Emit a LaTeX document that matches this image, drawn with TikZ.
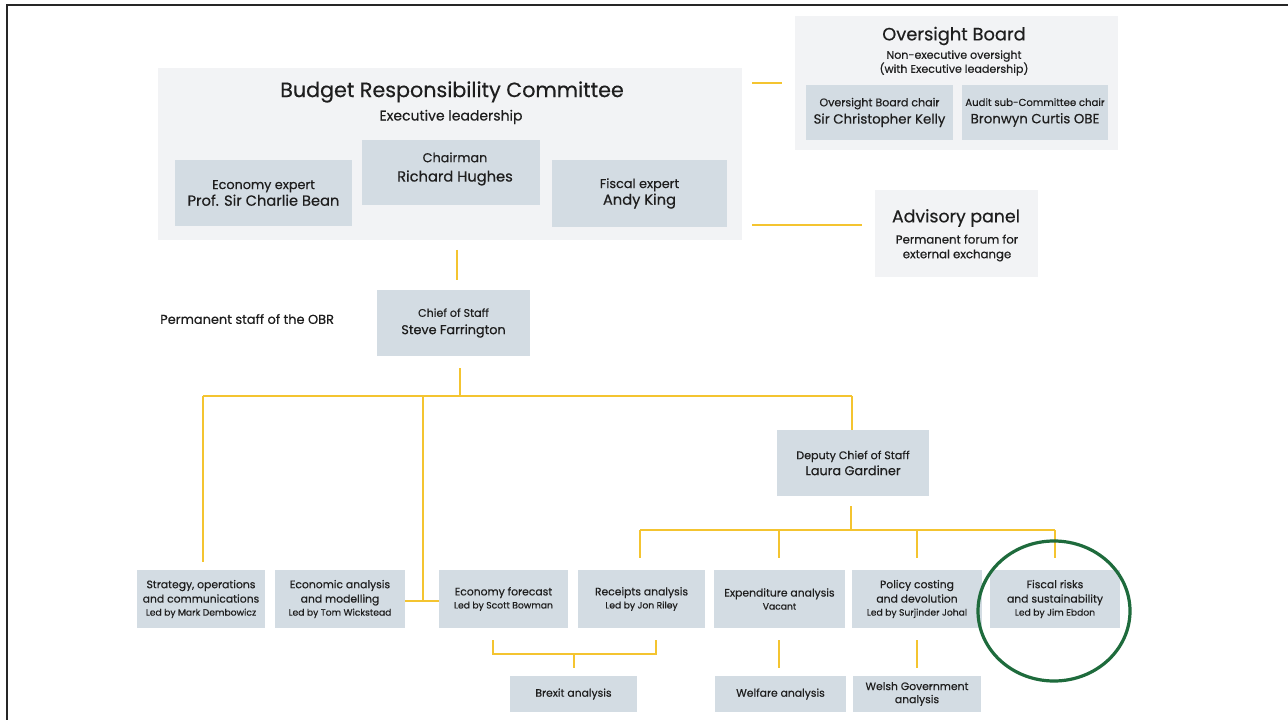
\documentclass[tikz,border=0pt]{standalone}
\usepackage{fontspec}
\setmainfont{Poppins}[RawFeature={embolden=0.4}]
\definecolor{boxc}{HTML}{D3DCE3}
\definecolor{panelc}{HTML}{F2F3F5}
\definecolor{gold}{HTML}{F4C430}
\definecolor{txt}{HTML}{1E1E1E}
\definecolor{ring}{HTML}{1E6B3C}
\newcommand\sbt{\fontsize{10.5}{12}\selectfont}
\newcommand\nm{\fontsize{11}{13}\selectfont}
\newcommand\rl{\fontsize{9.6}{11.5}\selectfont}
\newcommand\bt{\fontsize{8.1}{10.8}\selectfont}
\newcommand\ld{\fontsize{6.9}{8}\selectfont}
\newcommand\obox[7][]{\node[box, minimum width={(#5-#3)*0.75pt}, minimum height={(#6-#4)*0.75pt}, #1] (#2) at ({(#3+#5)/2},{(#4+#6)/2}) {#7};}
\newcommand\opanel[5]{\node[panel, minimum width={(#4-#2)*0.75pt}, minimum height={(#5-#3)*0.75pt}] (#1) at ({(#2+#4)/2},{(#3+#5)/2}) {};}
\begin{document}
\begin{tikzpicture}[x=0.75pt,y=-0.75pt,
  panel/.style={fill=panelc, draw=none, inner sep=0pt},
  box/.style={fill=boxc, draw=none, inner sep=0pt, align=center, text=txt, font=\bt},
  lbl/.style={inner sep=0pt, align=center, text=txt},
  conn/.style={draw=gold, line width=1.5pt},
]
\useasboundingbox (0,0) rectangle (1288,720);
\fill[white] (0,0) rectangle (1288,720);
\draw[black!85, line width=1.5pt] (7,720) -- (7,5) -- (1288,5);

% Budget Responsibility Committee
\opanel{brc}{158}{68}{742}{240}
\node[lbl, font=\fontsize{15.5}{18}\selectfont] (brct) at (452,92) {Budget Responsibility Committee};
\node[lbl, font=\sbt] (brcs) at (451,117) {Executive leadership};
\obox[font=\rl]{eco}{175}{160}{352}{226}{Economy expert\\[1pt]{\nm Prof. Sir Charlie Bean}}
\obox{chr}{362}{140}{540}{205}{}
\node[lbl, font=\rl] (chrt) at (455,169) {Chairman\\[3pt]{\nm Richard Hughes}};
\obox[font=\rl]{fsc}{552}{160}{727}{227}{Fiscal expert\\[1pt]{\nm Andy King}}

% Oversight Board
\opanel{ob}{795}{16}{1118}{150}
\node[lbl, font=\fontsize{13.4}{16}\selectfont] (obt) at (954,36) {Oversight Board};
\node[lbl, font=\fontsize{8.3}{10.5}\selectfont] (obs) at (954,63) {Non-executive oversight\\(with Executive leadership)};
\obox[font=\fontsize{8.3}{10}\selectfont]{obc}{806}{85}{953}{140}{Oversight Board chair\\[3pt]{\fontsize{10}{12}\selectfont Sir Christopher Kelly}}
\obox[font=\fontsize{7.6}{10}\selectfont]{aud}{962}{85}{1108}{140}{Audit sub-Committee chair\\[3pt]{\fontsize{10}{12}\selectfont Bronwyn Curtis OBE}}

% Advisory panel
\opanel{adv}{875}{190}{1038}{277}
\node[lbl, font=\fontsize{13}{15}\selectfont] (advt) at (956,218) {Advisory panel};
\node[lbl, font=\fontsize{8.8}{11}\selectfont] (advs) at (957,248) {Permanent forum for\\external exchange};

% Permanent staff
\node[lbl, anchor=west, font=\fontsize{9.7}{11}\selectfont] (perm) at (160,319) {Permanent staff of the OBR};
\obox[font=\fontsize{8.3}{10}\selectfont]{cos}{377}{290}{530}{356}{Chief of Staff\\[3pt]{\fontsize{9.6}{11}\selectfont Steve Farrington}}
\obox[font=\fontsize{8.3}{10}\selectfont]{dep}{777}{430}{929}{496}{Deputy Chief of Staff\\[2pt]{\fontsize{9.6}{11}\selectfont Laura Gardiner}}

% bottom row
\obox{str}{137}{570}{265}{628}{Strategy, operations\\and communications\\[-1pt]{\ld Led by Mark Dembowicz}}
\obox{ean}{275}{570}{405}{628}{Economic analysis\\and modelling\\[-1pt]{\ld Led by Tom Wickstead}}
\obox{for}{439}{570}{568}{628}{Economy forecast\\[-1pt]{\ld Led by Scott Bowman}}
\obox{rec}{578}{570}{705}{628}{Receipts analysis\\[-1pt]{\ld Led by Jon Riley}}
\obox{exp}{714}{570}{845}{628}{Expenditure analysis\\[-1pt]{\ld Vacant}}
\obox{pol}{852}{570}{982}{628}{Policy costing\\and devolution\\[-1pt]{\ld Led by Surjinder Johal}}
\obox{fis}{990}{570}{1120}{628}{Fiscal risks\\and sustainability\\[-1pt]{\ld Led by Jim Ebdon}}
\obox{brx}{510}{676}{637}{712}{Brexit analysis}
\obox{wel}{715}{676}{846}{712}{Welfare analysis}
\obox{wsh}{853}{676}{981}{712}{Welsh Government\\[-1pt]analysis}

% connectors
\draw[conn, shorten <=7.5pt, shorten >=9.75pt] (brc.east |- ob.west) -- (ob.west);
\coordinate (advin) at (862,225);
\draw[conn, shorten <=7.5pt] (brc.east |- advin) -- (advin);
\coordinate (c1) at (457,250);
\draw[conn, shorten >=7.5pt] (c1) -- (cos.north -| c1);
\coordinate (j1) at (460,396);
\draw[conn, shorten <=9pt] (cos.south -| j1) -- (j1);
\coordinate (sx) at (203,396);
\coordinate (dx) at (852,396);
\draw[conn] (sx) -- (dx);
\draw[conn, shorten >=6pt] (sx) -- (str.north -| sx);
\draw[conn] (dx) -- (dep.north -| dx);
\coordinate (j2) at (423,601);
\draw[conn] (j2 |- j1) -- (j2);
\draw[conn] (ean.east |- j2) -- (for.west |- j2);
\coordinate (j3) at (851,530);
\draw[conn, shorten <=7.5pt] (dep.south -| j3) -- (j3);
\coordinate (r3) at (640,530);
\coordinate (f3) at (1055,530);
\draw[conn] (r3) -- (f3);
\foreach \xx/\nd in {640/rec,779/exp,917/pol,1055/fis}{
  \draw[conn, shorten >=9pt] (\xx,530) -- (\nd.north -| \xx,530);
}
\coordinate (j4) at (574,654);
\coordinate (fa) at (493,640);
\coordinate (ra) at (656,640);
\draw[conn] (fa) |- (j4) -| (ra);
\draw[conn, shorten >=6pt] (j4) -- (brx.north -| j4);
\coordinate (ea) at (779,640);
\coordinate (pa) at (917,640);
\draw[conn, shorten >=6pt] (ea) -- (wel.north -| ea);
\draw[conn, shorten >=6pt] (pa) -- (wsh.north -| pa);

% highlight ring
\draw[ring, line width=2.4pt] (1054,611) ellipse [x radius=76, y radius=70];
\end{tikzpicture}
\end{document}
